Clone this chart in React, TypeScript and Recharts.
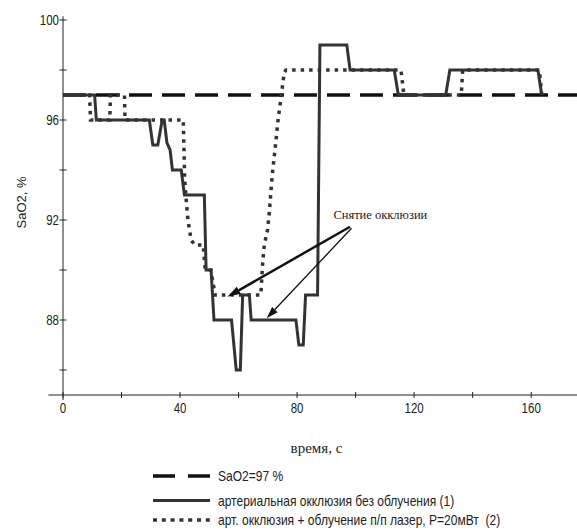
import React from 'react';
import { LineChart, Line, XAxis, YAxis, ReferenceLine, ReferenceDot } from 'recharts';

// axis ticks (время, с / SaO2, %)
const xTicks = [0, 20, 40, 60, 80, 100, 120, 140, 160];
const xTickLabels = [0, 40, 80, 120, 160];
const yTicks = [86, 88, 90, 92, 94, 96, 98, 100];
const yTickLabels = [88, 92, 96, 100];

// SaO2=97 %
const baselineSat = 97;

// артериальная окклюзия без облучения (1)
const occlusionTime = [0, 10.8, 11.4, 29.5, 30.7, 32.4, 33.9, 34.6, 35.5, 36.6, 37.4, 40.4, 41.5, 48.3, 48.9, 50.6, 51.6, 57.6, 59.2, 60.6, 61.4, 63.7, 64.3, 79.6, 80.6, 82.1, 82.9, 87.0, 87.8, 97.0, 98.1, 113.2, 114.6, 130.8, 132.2, 162.3, 163.6];
const occlusionSat = [97, 97, 96, 96, 95, 95, 96, 96, 95.1, 94.8, 94, 94, 93, 93, 90, 90, 88, 88, 86, 86, 89, 89, 88, 88, 87, 87, 89, 89, 99, 99, 98, 98, 97, 97, 98, 98, 97];

// арт. окклюзия + облучение п/п лазер, P=20мВт (2)
const laserTime = [0, 9.1, 9.4, 16.0, 16.2, 21.0, 21.2, 41.1, 41.6, 42.1, 42.7, 43.8, 45.0, 47.9, 48.6, 50.5, 52.0, 67.6, 68.3, 68.8, 69.9, 70.5, 71.1, 71.6, 72.8, 73.4, 74.5, 75.6, 76.2, 115.5, 116.5, 136.1, 136.6, 162.8, 163.6];
const laserSat = [97, 97, 96, 96, 97, 97, 96, 96, 93.6, 92.8, 92, 91.2, 91, 91, 90, 90, 89, 89, 90.4, 91, 91.6, 92.3, 93.2, 93.9, 95.2, 95.9, 96.9, 97.9, 98, 98, 97, 97, 98, 98, 97];

const legendLabels = [
  'SaO2=97 %',
  'артериальная окклюзия без облучения (1)',
  'арт. окклюзия + облучение п/п лазер, P=20мВт  (2)',
];
const noteText = 'Снятие окклюзии';

const occlusion = occlusionTime.map((t, i) => ({ t, sat: occlusionSat[i] }));
const laser = laserTime.map((t, i) => ({ t, sat: laserSat[i] }));

const sans = "'Liberation Sans', Arial, sans-serif";
const serif = "'Liberation Serif', 'Times New Roman', serif";
const ink = '#222';

// no narrow face installed: squeeze Liberation Sans horizontally instead
const NarrowText = ({ x, y, anchor = 'start', size, squeeze = 0.82, children }: any) => (
  <text transform={`translate(${x} ${y}) scale(${squeeze} 1)`} textAnchor={anchor}
    fontFamily={sans} fontSize={size} fill={ink} style={{ whiteSpace: 'pre' }}>
    {children}
  </text>
);

const YTick = ({ x, y, payload }: any) => (
  <g>
    <line x1={x - 3.5} x2={x + 3.5} y1={y} y2={y} stroke={ink} />
    {yTickLabels.includes(payload.value) && (
      <NarrowText x={x - 4} y={y + 5} anchor="end" size={14}>{payload.value}</NarrowText>
    )}
  </g>
);

const XTick = ({ x, y, payload }: any) => (
  <g>
    <line x1={x} x2={x} y1={y - 3} y2={y + 3} stroke={ink} />
    {xTickLabels.includes(payload.value) && (
      <NarrowText x={x} y={y + 18} anchor="middle" size={14}>{payload.value}</NarrowText>
    )}
  </g>
);

const YTitle = ({ viewBox }: any) => {
  const cx = viewBox.x - 2;
  const cy = viewBox.y + viewBox.height / 2 - 5;
  return (
    <text x={cx} y={cy} transform={`rotate(-90 ${cx} ${cy})`} textAnchor="middle" dy={5}
      fontFamily={sans} fontSize={13} fill={ink}>
      SaO2, %
    </text>
  );
};

const XTitle = ({ viewBox }: any) => (
  <text x={viewBox.x + viewBox.width / 2 - 4} y={viewBox.y + 58} textAnchor="middle"
    fontFamily={serif} fontSize={15} fill={ink}>
    время, с
  </text>
);

// line with a filled head at (x2, y2)
const arrowShape = (w: number, len: number, half: number) => (p: any) => {
  const { x1, y1, x2, y2 } = p;
  const a = Math.atan2(y2 - y1, x2 - x1);
  const bx = x2 - len * Math.cos(a);
  const by = y2 - len * Math.sin(a);
  const nx = -Math.sin(a) * half;
  const ny = Math.cos(a) * half;
  return (
    <g>
      <line x1={x1} y1={y1} x2={bx} y2={by} stroke="#111" strokeWidth={w} />
      <polygon points={`${x2},${y2} ${bx + nx},${by + ny} ${bx - nx},${by - ny}`} fill="#111" />
    </g>
  );
};

const Legend = () => (
  <svg width={577} height={69} style={{ position: 'absolute', left: 0, top: 462 }}>
    <line x1={153} x2={210} y1={14} y2={14} stroke="#111" strokeWidth={3.5} strokeDasharray="22 13" />
    <line x1={153} x2={210} y1={38.5} y2={38.5} stroke="#333" strokeWidth={3} />
    <line x1={153} x2={210} y1={58} y2={58} stroke="#333" strokeWidth={3.5} strokeDasharray="4 4.8" />
    {legendLabels.map((s, i) => (
      <NarrowText key={s} x={218} y={[14, 38.5, 58][i] + 5} size={14} squeeze={0.86}>{s}</NarrowText>
    ))}
  </svg>
);

export default function App() {
  return (
    <div style={{ position: 'absolute', left: 0, top: 0, width: 577, height: 531, overflow: 'hidden', background: '#fff' }}>
      <LineChart width={580} height={531} margin={{ top: 20, right: 2, bottom: 106, left: 23 }}>
        <XAxis type="number" dataKey="t" domain={[0, 176]} ticks={xTicks} interval={0} allowDataOverflow
          height={30} tickSize={0} tickMargin={0} tickLine={false} stroke={ink} tick={<XTick />}
          label={{ content: XTitle }} />
        <YAxis type="number" domain={[85, 100]} ticks={yTicks} interval={0} allowDataOverflow
          width={40} tickSize={0} tickMargin={0} tickLine={false} stroke={ink} tick={<YTick />}
          label={{ content: YTitle }} />

        {/* axis stubs past the origin */}
        <ReferenceLine segment={[{ x: -5, y: 85 }, { x: 0, y: 85 }]} ifOverflow="visible" stroke={ink} />
        <ReferenceLine segment={[{ x: 0, y: 84.8 }, { x: 0, y: 85 }]} ifOverflow="visible" stroke={ink} />
        <ReferenceLine segment={[{ x: 0, y: 100 }, { x: 0, y: 100.15 }]} ifOverflow="visible" stroke={ink} />

        <ReferenceLine y={baselineSat} stroke="#111" strokeWidth={3.5} strokeDasharray="23 10" />

        <Line data={laser} dataKey="sat" type="linear" stroke="#333" strokeWidth={3.5}
          strokeDasharray="3.5 5" dot={false} activeDot={false} isAnimationActive={false} />
        <Line data={occlusion} dataKey="sat" type="linear" stroke="#333" strokeWidth={3}
          dot={false} activeDot={false} isAnimationActive={false} />

        <ReferenceLine segment={[{ x: 98.1, y: 91.73 }, { x: 56.2, y: 88.93 }]} shape={arrowShape(2.5, 13, 4)} />
        <ReferenceLine segment={[{ x: 98.6, y: 91.67 }, { x: 69.6, y: 88.07 }]} shape={arrowShape(1.3, 12, 3.8)} />
        <ReferenceDot x={92.4} y={92.2} r={0} shape={(p: any) => (
          <text x={p.cx} y={p.cy} dy={4} fontFamily={serif} fontSize={12.5} fill={ink}>{noteText}</text>
        )} />
      </LineChart>
      <Legend />
    </div>
  );
}
